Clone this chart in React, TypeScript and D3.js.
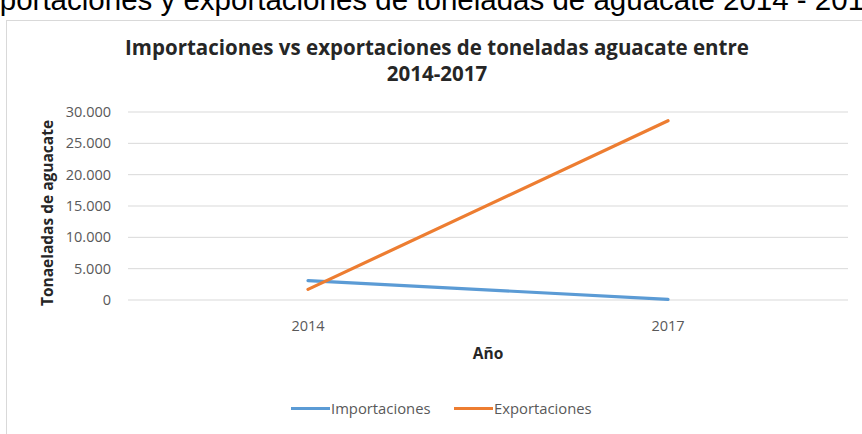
import React, { useEffect } from "react";
import * as d3 from "d3";

const years = ["2014", "2017"];
const importaciones = [3100, 100];
const exportaciones = [1700, 28600];
const yTicks = [0, 5000, 10000, 15000, 20000, 25000, 30000];
const seriesNames = ["Importaciones", "Exportaciones"];
const seriesColors = ["#5B9BD5", "#ED7D31"];

const W = 862;
const H = 434;
const M = { left: 128, right: 848, top: 112, bottom: 300 };

export default function App() {
  useEffect(() => {
    document.body.style.margin = "0";
  }, []);

  const x = d3.scaleBand<string>().domain(years).range([M.left, M.right]);
  const y = d3.scaleLinear().domain([0, 30000]).range([M.bottom, M.top]);
  const fmt = (v: number) => d3.format(",")(v).replace(/,/g, ".");

  const line = d3
    .line<number>()
    .x((_, i) => (x(years[i]) as number) + x.bandwidth() / 2)
    .y((d) => y(d));

  const series = [importaciones, exportaciones];
  const font = "'Open Sans', 'DejaVu Sans', sans-serif";

  return (
    <svg width={W} height={H} style={{ display: "block" }} fontFamily={font}>
      <rect x={0} y={0} width={W} height={H} fill="#fff" />
      <text
        x={-33}
        y={10}
        fontFamily="'Liberation Sans', Arial, sans-serif"
        fontSize={29.5}
        fill="#000"
      >
        Importaciones y exportaciones de toneladas de aguacate 2014 - 2017
      </text>
      <rect x={6.5} y={20.5} width={W} height={H} fill="none" stroke="#d9d9d9" strokeWidth={1} />

      <text x={437} y={55} textAnchor="middle" fontSize={20.5} fontWeight={700} fill="#262626">
        Importaciones vs exportaciones de toneladas aguacate entre
      </text>
      <text x={437} y={81} textAnchor="middle" fontSize={20.5} fontWeight={700} fill="#262626">
        2014-2017
      </text>

      {yTicks.map((t) => (
        <g key={t}>
          <line x1={M.left} x2={M.right} y1={y(t)} y2={y(t)} stroke="#d9d9d9" strokeWidth={1} />
          <text x={111} y={y(t) + 5} textAnchor="end" fontSize={14.5} fill="#595959">
            {fmt(t)}
          </text>
        </g>
      ))}

      {years.map((yr) => (
        <text
          key={yr}
          x={(x(yr) as number) + x.bandwidth() / 2}
          y={330.5}
          textAnchor="middle"
          fontSize={14.5}
          fill="#595959"
        >
          {yr}
        </text>
      ))}

      <text x={(M.left + M.right) / 2} y={358.5} textAnchor="middle" fontSize={15.5} fontWeight={700} fill="#262626">
        Año
      </text>
      <text
        transform={`translate(53, 213) rotate(-90)`}
        textAnchor="middle"
        fontSize={15.5}
        fontWeight={700}
        fill="#262626"
      >
        Tonaeladas de aguacate
      </text>

      {series.map((s, i) => (
        <path
          key={i}
          d={line(s) || ""}
          fill="none"
          stroke={seriesColors[i]}
          strokeWidth={3.2}
          strokeLinecap="round"
        />
      ))}

      {seriesNames.map((n, i) => {
        const lx = [291, 454][i];
        return (
          <g key={n}>
            <line x1={lx} x2={lx + 39} y1={408.5} y2={408.5} stroke={seriesColors[i]} strokeWidth={3.2} />
            <text x={lx + 40} y={414} fontSize={14.8} fill="#595959">
              {n}
            </text>
          </g>
        );
      })}
    </svg>
  );
}
